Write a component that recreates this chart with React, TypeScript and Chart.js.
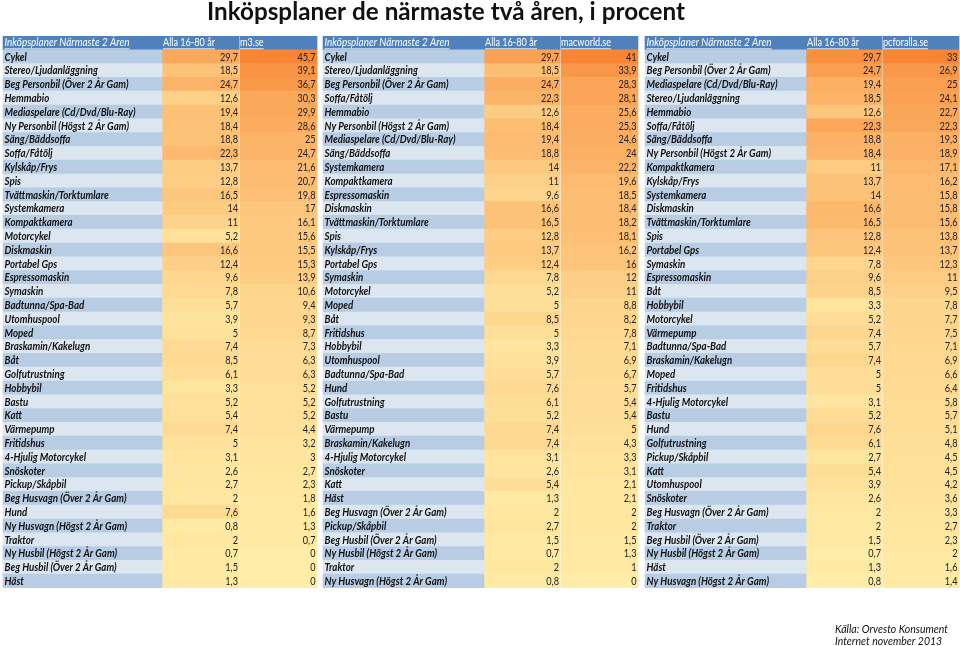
import React, { useEffect, useRef } from "react";
import { Chart, registerables } from "chart.js";

Chart.register(...registerables);

// ---------- DATA ----------
const chartTitle = "Inköpsplaner de närmaste två åren, i procent";
const headerLabel = "Inköpsplaner Närmaste 2 Åren";
const headerAll = "Alla 16-80 år";
const sourceLines = ["Källa: Orvesto Konsument", "Internet november 2013"];

const m3Site = "m3.se";
const m3Categories = [
  "Cykel", "Stereo/Ljudanläggning", "Beg Personbil (Över 2 År Gam)", "Hemmabio",
  "Mediaspelare (Cd/Dvd/Blu-Ray)", "Ny Personbil (Högst 2 År Gam)", "Säng/Bäddsoffa",
  "Soffa/Fåtölj", "Kylskåp/Frys", "Spis", "Tvättmaskin/Torktumlare", "Systemkamera",
  "Kompaktkamera", "Motorcykel", "Diskmaskin", "Portabel Gps", "Espressomaskin",
  "Symaskin", "Badtunna/Spa-Bad", "Utomhuspool", "Moped", "Braskamin/Kakelugn", "Båt",
  "Golfutrustning", "Hobbybil", "Bastu", "Katt", "Värmepump", "Fritidshus",
  "4-Hjulig Motorcykel", "Snöskoter", "Pickup/Skåpbil", "Beg Husvagn (Över 2 År Gam)",
  "Hund", "Ny Husvagn (Högst 2 År Gam)", "Traktor", "Ny Husbil (Högst 2 År Gam)",
  "Beg Husbil (Över 2 År Gam)", "Häst",
];
const m3All = [29.7, 18.5, 24.7, 12.6, 19.4, 18.4, 18.8, 22.3, 13.7, 12.8, 16.5, 14, 11, 5.2, 16.6, 12.4, 9.6, 7.8, 5.7, 3.9, 5, 7.4, 8.5, 6.1, 3.3, 5.2, 5.4, 7.4, 5, 3.1, 2.6, 2.7, 2, 7.6, 0.8, 2, 0.7, 1.5, 1.3];
const m3Values = [45.7, 39.1, 36.7, 30.3, 29.9, 28.6, 25, 24.7, 21.6, 20.7, 19.8, 17, 16.1, 15.6, 15.5, 15.3, 13.9, 10.6, 9.4, 9.3, 8.7, 7.3, 6.3, 6.3, 5.2, 5.2, 5.2, 4.4, 3.2, 3, 2.7, 2.3, 1.8, 1.6, 1.3, 0.7, 0, 0, 0];

const mwSite = "macworld.se";
const mwCategories = [
  "Cykel", "Stereo/Ljudanläggning", "Beg Personbil (Över 2 År Gam)", "Soffa/Fåtölj",
  "Hemmabio", "Ny Personbil (Högst 2 År Gam)", "Mediaspelare (Cd/Dvd/Blu-Ray)",
  "Säng/Bäddsoffa", "Systemkamera", "Kompaktkamera", "Espressomaskin", "Diskmaskin",
  "Tvättmaskin/Torktumlare", "Spis", "Kylskåp/Frys", "Portabel Gps", "Symaskin",
  "Motorcykel", "Moped", "Båt", "Fritidshus", "Hobbybil", "Utomhuspool",
  "Badtunna/Spa-Bad", "Hund", "Golfutrustning", "Bastu", "Värmepump",
  "Braskamin/Kakelugn", "4-Hjulig Motorcykel", "Snöskoter", "Katt", "Häst",
  "Beg Husvagn (Över 2 År Gam)", "Pickup/Skåpbil", "Beg Husbil (Över 2 År Gam)",
  "Ny Husbil (Högst 2 År Gam)", "Traktor", "Ny Husvagn (Högst 2 År Gam)",
];
const mwAll = [29.7, 18.5, 24.7, 22.3, 12.6, 18.4, 19.4, 18.8, 14, 11, 9.6, 16.6, 16.5, 12.8, 13.7, 12.4, 7.8, 5.2, 5, 8.5, 5, 3.3, 3.9, 5.7, 7.6, 6.1, 5.2, 7.4, 7.4, 3.1, 2.6, 5.4, 1.3, 2, 2.7, 1.5, 0.7, 2, 0.8];
const mwValues = [41, 33.9, 28.3, 28.1, 25.6, 25.3, 24.6, 24, 22.2, 19.6, 18.5, 18.4, 18.2, 18.1, 16.2, 16, 12, 11, 8.8, 8.2, 7.8, 7.1, 6.9, 6.7, 5.7, 5.4, 5.4, 5, 4.3, 3.3, 3.1, 2.1, 2.1, 2, 2, 1.5, 1.3, 1, 0];

const pcSite = "pcforalla.se";
const pcCategories = [
  "Cykel", "Beg Personbil (Över 2 År Gam)", "Mediaspelare (Cd/Dvd/Blu-Ray)",
  "Stereo/Ljudanläggning", "Hemmabio", "Soffa/Fåtölj", "Säng/Bäddsoffa",
  "Ny Personbil (Högst 2 År Gam)", "Kompaktkamera", "Kylskåp/Frys", "Systemkamera",
  "Diskmaskin", "Tvättmaskin/Torktumlare", "Spis", "Portabel Gps", "Symaskin",
  "Espressomaskin", "Båt", "Hobbybil", "Motorcykel", "Värmepump", "Badtunna/Spa-Bad",
  "Braskamin/Kakelugn", "Moped", "Fritidshus", "4-Hjulig Motorcykel", "Bastu", "Hund",
  "Golfutrustning", "Pickup/Skåpbil", "Katt", "Utomhuspool", "Snöskoter",
  "Beg Husvagn (Över 2 År Gam)", "Traktor", "Beg Husbil (Över 2 År Gam)",
  "Ny Husbil (Högst 2 År Gam)", "Häst", "Ny Husvagn (Högst 2 År Gam)",
];
const pcAll = [29.7, 24.7, 19.4, 18.5, 12.6, 22.3, 18.8, 18.4, 11, 13.7, 14, 16.6, 16.5, 12.8, 12.4, 7.8, 9.6, 8.5, 3.3, 5.2, 7.4, 5.7, 7.4, 5, 5, 3.1, 5.2, 7.6, 6.1, 2.7, 5.4, 3.9, 2.6, 2, 2, 1.5, 0.7, 1.3, 0.8];
const pcValues = [33, 26.9, 25, 24.1, 22.7, 22.3, 19.3, 18.9, 17.1, 16.2, 15.8, 15.8, 15.6, 13.8, 13.7, 12.3, 11, 9.5, 7.8, 7.7, 7.5, 7.1, 6.9, 6.6, 6.4, 5.8, 5.7, 5.1, 4.8, 4.5, 4.5, 4.2, 3.6, 3.3, 2.7, 2.3, 2, 1.6, 1.4];

// ---------- LAYOUT / STYLE ----------
const W = 960;
const H = 646;
const TOP = 36;
const BOTTOM = 588;
const EDGES = [
  [3, 162, 239, 317],
  [323, 484, 560, 638],
  [645, 806, 882, 959],
];
const HEADER_BG = "#4F81BD";
const ROW_DARK = "#B8CCE4";
const ROW_LIGHT = "#DCE6F1";
const HEAT_LOW = [255, 236, 166];
const HEAT_HIGH = [248, 133, 52];
const FONT = "Lato, 'Open Sans', sans-serif";

function heat(t: number) {
  const c = HEAT_LOW.map((lo, i) => Math.round(lo + (HEAT_HIGH[i] - lo) * t));
  return `rgb(${c[0]},${c[1]},${c[2]})`;
}
function fmt(v: number) {
  return String(v).replace(".", ",");
}

export default function App() {
  const ref = useRef<HTMLCanvasElement>(null);

  useEffect(() => {
    const tables = [
      { cats: m3Categories, all: m3All, vals: m3Values, site: m3Site },
      { cats: mwCategories, all: mwAll, vals: mwValues, site: mwSite },
      { cats: pcCategories, all: pcAll, vals: pcValues, site: pcSite },
    ];
    const rowKeys = ["header", ...m3Categories.map((_, i) => "row" + (i + 1))];

    const datasets: any[] = [];
    tables.forEach((t, ti) => {
      const e = EDGES[ti];
      const all = [...t.all, ...t.vals];
      const mn = Math.min(...all);
      const mx = Math.max(...all);
      const base = { grouped: false, barPercentage: 1, categoryPercentage: 1, borderWidth: 0 };
      datasets.push({
        ...base,
        data: rowKeys.map(() => [e[0], e[1]]),
        backgroundColor: rowKeys.map((_, r) => (r === 0 ? HEADER_BG : r % 2 === 1 ? ROW_DARK : ROW_LIGHT)),
      });
      datasets.push({
        ...base,
        data: rowKeys.map(() => [e[1], e[2]]),
        backgroundColor: [HEADER_BG, ...t.all.map((v) => heat((v - mn) / (mx - mn)))],
      });
      datasets.push({
        ...base,
        data: rowKeys.map(() => [e[2] + 1, e[3]]),
        backgroundColor: [HEADER_BG, ...t.vals.map((v) => heat((v - mn) / (mx - mn)))],
      });
    });

    const textPlugin = {
      id: "tableText",
      afterDatasetsDraw(chart: any) {
        const ctx = chart.ctx as CanvasRenderingContext2D;
        const xs = chart.scales.x;
        const ys = chart.scales.y;
        const draw = (text: string, x: number, y: number, font: string, color: string, align: CanvasTextAlign, sx: number, base: CanvasTextBaseline = "middle", underline = false) => {
          ctx.save();
          ctx.font = font;
          ctx.fillStyle = color;
          ctx.textAlign = align;
          ctx.textBaseline = base;
          ctx.translate(x, y);
          ctx.scale(sx, 1);
          ctx.fillText(text, 0, 0);
          if (underline) {
            const w = ctx.measureText(text).width;
            ctx.fillRect(0, 5.5, w, 0.9);
          }
          ctx.restore();
        };
        const measure = (text: string, font: string) => {
          ctx.save();
          ctx.font = font;
          const w = ctx.measureText(text).width;
          ctx.restore();
          return w;
        };
        const labelFont = `italic bold 10.5px ${FONT}`;
        const numFont = `10.5px ${FONT}`;
        const headFontI = `italic 10.5px ${FONT}`;
        const headFont = `10.5px ${FONT}`;
        const titleFont = `bold 24px ${FONT}`;
        const srcFont = `italic 11.5px ${FONT}`;
        const sxLabel = 124 / measure("Beg Personbil (Över 2 År Gam)", labelFont);
        const sxNum = 18 / measure("29,7", numFont);
        const sxHead = 125 / measure(headerLabel, headFontI);
        const sxHead2 = 52 / measure(headerAll, headFont);
        const sxTitle = 478 / measure(chartTitle, titleFont);
        const sxSrc = 113 / measure(sourceLines[0], srcFont);

        // Title
        draw(chartTitle, xs.getPixelForValue(207), 20, titleFont, "#111", "left", sxTitle, "alphabetic");

        tables.forEach((t, ti) => {
          const e = EDGES[ti];
          const yh = ys.getPixelForValue(0);
          draw(headerLabel, xs.getPixelForValue(e[0]) + 1.5, yh, headFontI, "#fff", "left", sxHead, "middle", true);
          draw(headerAll, xs.getPixelForValue(e[1]) + 1, yh, headFont, "#fff", "left", sxHead2, "middle", true);
          draw(t.site, xs.getPixelForValue(e[2]) + 1, yh, headFont, "#fff", "left", sxHead2, "middle", true);
          t.cats.forEach((c, i) => {
            const y = ys.getPixelForValue(i + 1) + 0.5;
            draw(c, xs.getPixelForValue(e[0]) + 1.5, y, labelFont, "#111", "left", sxLabel);
            draw(fmt(t.all[i]), xs.getPixelForValue(e[2]) - 1, y, numFont, "#222", "right", sxNum);
            draw(fmt(t.vals[i]), xs.getPixelForValue(e[3]) - 1.5, y, numFont, "#222", "right", sxNum);
          });
        });

        // Source
        draw(sourceLines[0], xs.getPixelForValue(835), 633, srcFont, "#111", "left", sxSrc, "alphabetic");
        draw(sourceLines[1], xs.getPixelForValue(835), 645, srcFont, "#111", "left", sxSrc, "alphabetic");
      },
    };

    const chart = new Chart(ref.current as HTMLCanvasElement, {
      type: "bar",
      data: { labels: rowKeys, datasets },
      options: {
        indexAxis: "y",
        animation: false,
        responsive: true,
        maintainAspectRatio: false,
        layout: { padding: { top: TOP, bottom: H - BOTTOM, left: 0, right: 0 } },
        scales: {
          x: { type: "linear", min: 0, max: W, display: false },
          y: { type: "category", display: false, offset: true },
        },
        plugins: { legend: { display: false }, tooltip: { enabled: false }, title: { display: false } },
      },
      plugins: [textPlugin],
    } as any);
    return () => chart.destroy();
  }, []);

  return (
    <div style={{ position: "absolute", left: 0, top: 0, width: W, height: H, background: "#fff" }}>
      <canvas ref={ref} />
    </div>
  );
}
